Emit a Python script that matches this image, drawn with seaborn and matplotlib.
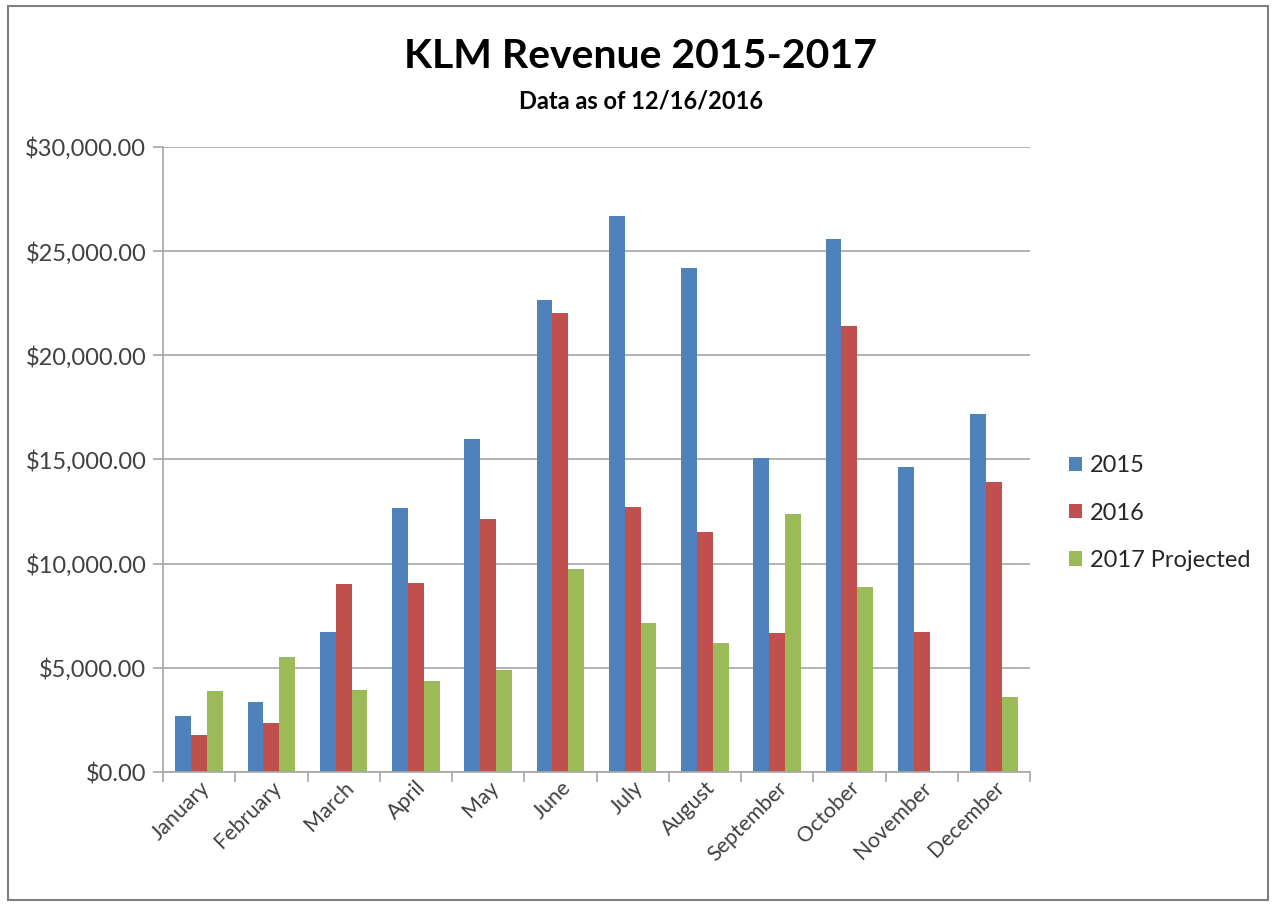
import matplotlib
matplotlib.use("Agg")
import matplotlib.pyplot as plt
import seaborn as sns
import pandas as pd
from matplotlib.patches import Rectangle
from matplotlib.ticker import FuncFormatter, MultipleLocator

months = ["January", "February", "March", "April", "May", "June",
          "July", "August", "September", "October", "November", "December"]
series_names = ["2015", "2016", "2017 Projected"]
rev_2015 = [2700, 3350, 6710, 12660, 15990, 22660, 26690, 24180, 15060, 25600, 14660, 17190]
rev_2016 = [1780, 2370, 9030, 9090, 12150, 22050, 12740, 11510, 6660, 21420, 6730, 13940]
rev_2017 = [3890, 5540, 3940, 4370, 4900, 9750, 7170, 6180, 12370, 8880, 0, 3600]
colors = ["#4F81BD", "#C0504D", "#9BBB59"]

df = pd.DataFrame({
    "Month": months * 3,
    "Series": [series_names[0]] * 12 + [series_names[1]] * 12 + [series_names[2]] * 12,
    "Revenue": rev_2015 + rev_2016 + rev_2017,
})

sns.set_theme(style="white")
plt.rcParams["font.family"] = ["Lato", "DejaVu Sans"]

W, H = 1276, 906
fig = plt.figure(figsize=(W / 100, H / 100), dpi=100)
ax = fig.add_axes([163 / W, 1 - 772 / H, (1030 - 163) / W, (772 - 147) / H])

sns.barplot(data=df, x="Month", y="Revenue", hue="Series", palette=colors,
            order=months, hue_order=series_names, width=0.66, saturation=1,
            edgecolor="none", linewidth=0, ax=ax, legend=True)

ax.set_ylim(0, 30000)
ax.set_xlim(-0.5, 11.5)
ax.yaxis.set_major_locator(MultipleLocator(5000))
ax.yaxis.set_major_formatter(FuncFormatter(lambda v, p: "${:,.2f}".format(v)))
ax.grid(axis="y", color="#A6A6A6", linewidth=1.2)
ax.set_axisbelow(True)
ax.set_xlabel("")
ax.set_ylabel("")

for s in ["top", "right"]:
    ax.spines[s].set_visible(False)
for s in ["left", "bottom"]:
    ax.spines[s].set_color("#A6A6A6")
    ax.spines[s].set_linewidth(1.2)

ax.tick_params(axis="y", which="major", length=7, width=1.2, color="#A6A6A6",
               labelsize=17, labelcolor="#404040", pad=5, left=True)
ax.tick_params(axis="x", which="major", length=0, labelsize=15.5,
               labelcolor="#404040", pad=4)
ax.set_xticks(range(12))
ax.set_xticklabels(months, rotation=45, ha="right", rotation_mode="anchor")
ax.set_xticks([i - 0.5 for i in range(13)], minor=True)
ax.tick_params(axis="x", which="minor", length=7, width=1.2, color="#A6A6A6",
               bottom=True)

leg = ax.legend(loc="center left", bbox_to_anchor=(1069 / W, 1 - 513 / H),
                bbox_transform=fig.transFigure, frameon=False, fontsize=17,
                handlelength=0.55, handleheight=0.55, handletextpad=0.35,
                labelspacing=1.12, borderaxespad=0, borderpad=0)
for t in leg.get_texts():
    t.set_color("#262626")

fig.text(641 / W, 1 - 56 / H, "KLM Revenue 2015-2017", ha="center", va="center",
         fontsize=29.5, fontweight="bold", color="black")
fig.text(641 / W, 1 - 101 / H, "Data as of 12/16/2016", ha="center", va="center",
         fontsize=17, fontweight="bold", color="black")

fig.patches.append(Rectangle((8 / W, 6 / H), (1268 - 8) / W, (900 - 6) / H,
                             transform=fig.transFigure, fill=False,
                             edgecolor="#7F7F7F", linewidth=1.5))

fig.savefig("out.png", dpi=100, facecolor="white")
